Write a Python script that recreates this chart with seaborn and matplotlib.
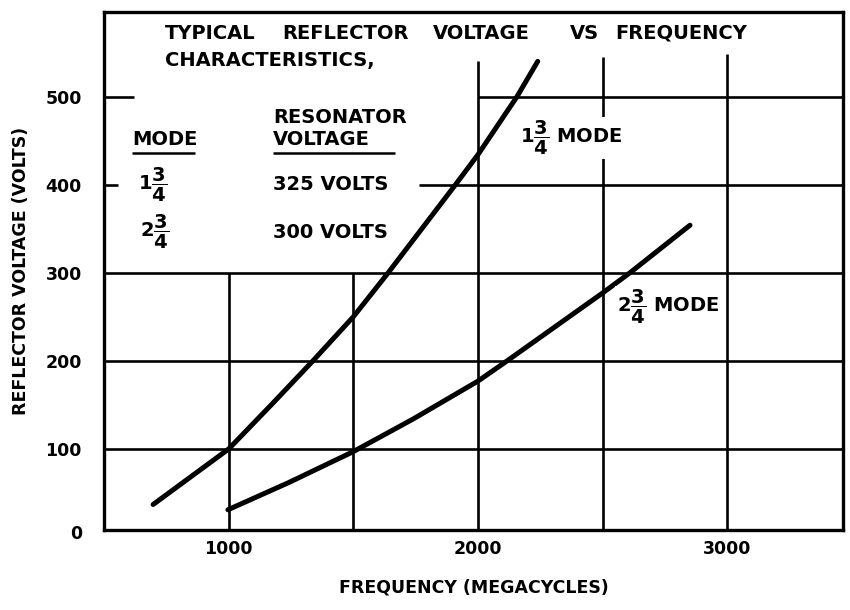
import pandas as pd
import matplotlib
matplotlib.use("Agg")
import matplotlib.pyplot as plt
import seaborn as sns

###############################################################################
# Values (frequency in megacycles, volts)
###############################################################################
mode_1_freq = [697, 1000, 1174, 1338, 1500, 1640, 1910, 2000, 2157, 2240]
mode_1_volts = [37, 100, 151, 200, 250, 300, 400, 434, 500, 540]

mode_2_freq = [997, 1242, 1500, 1740, 2000, 2117, 2500, 2610, 2851]
mode_2_volts = [31, 62, 97, 134, 177, 200, 277, 300, 354]

x_ticks = [1000, 2000, 3000]
x_tick_labels = ["1000", "2000", "3000"]
y_ticks = [100, 200, 300, 400, 500]
y_tick_labels = ["100", "200", "300", "400", "500"]

title_words = ["TYPICAL", "REFLECTOR", "VOLTAGE", "VS", "FREQUENCY"]

df = pd.concat([
    pd.DataFrame({"freq": mode_1_freq, "volts": mode_1_volts, "mode": "1 3/4"}),
    pd.DataFrame({"freq": mode_2_freq, "volts": mode_2_volts, "mode": "2 3/4"}),
], ignore_index=True)

###############################################################################
# Style
###############################################################################
sns.set_theme(style="white")
plt.rcParams["font.family"] = ["DejaVu Sans"]
plt.rcParams["font.weight"] = "bold"
plt.rcParams["text.color"] = "black"
plt.rcParams["axes.labelcolor"] = "black"
plt.rcParams["mathtext.fontset"] = "dejavusans"
plt.rcParams["mathtext.default"] = "bf"

fig = plt.figure(figsize=(8.5, 6.1), dpi=100)
ax = fig.add_axes([0.1224, 0.1311, 0.8694, 0.8492])

XMIN, XMAX = 500, 3465
YMIN, YMAX = 8, 596
ax.set_xlim(XMIN, XMAX)
ax.set_ylim(YMIN, YMAX)

# partial grid, drawn the way the old plate has it
grid_kw = dict(color="black", lw=1.9, zorder=1)
for v in [100, 200, 300]:
    ax.hlines(v, XMIN, XMAX, **grid_kw)
ax.hlines(400, 1764, XMAX, **grid_kw)
ax.hlines(500, 2000, XMAX, **grid_kw)
ax.hlines(500, XMIN, 620, **grid_kw)
ax.hlines(400, XMIN, 555, **grid_kw)
for f in [1000, 1500]:
    ax.vlines(f, YMIN, 300, **grid_kw)
ax.vlines(2000, YMIN, 540, **grid_kw)
ax.vlines(2500, YMIN, 545, **grid_kw)
ax.vlines(3000, YMIN, 548, **grid_kw)

# curves
sns.lineplot(data=df, x="freq", y="volts", hue="mode",
             palette={"1 3/4": "black", "2 3/4": "black"},
             estimator=None, sort=False, lw=3.6, legend=False,
             solid_capstyle="round", solid_joinstyle="round", ax=ax, zorder=3)

for s in ax.spines.values():
    s.set_visible(True)
    s.set_color("black")
    s.set_linewidth(2.4)

ax.set_xticks(x_ticks)
ax.set_xticklabels(x_tick_labels)
ax.set_yticks(y_ticks)
ax.set_yticklabels(y_tick_labels)
ax.tick_params(axis="both", length=0, labelsize=12.5, colors="black")
ax.tick_params(axis="y", pad=16)
ax.tick_params(axis="x", pad=7)
ax.annotate("0", xy=(0, YMIN), xycoords=ax.get_yaxis_transform(),
            xytext=(-16, -3), textcoords="offset points",
            ha="right", va="center", fontsize=12.5, fontweight="bold")

ax.set_xlabel("FREQUENCY (MEGACYCLES)", fontsize=12.5, fontweight="bold", labelpad=15)
ax.set_ylabel("REFLECTOR VOLTAGE (VOLTS)", fontsize=12.5, fontweight="bold", labelpad=11)

###############################################################################
# Annotations
###############################################################################
txt = dict(fontsize=14, fontweight="bold", color="black", va="center", zorder=4)

# title words spread out like the hand lettering on the plate
word_x = [745, 1215, 1820, 2370, 2550]
for w, x in zip(title_words, word_x):
    ax.text(x, 572, w, **txt)
ax.text(745, 541, "CHARACTERISTICS,", **txt)

ax.text(612, 451, "MODE", **txt)
ax.hlines(436, 612, 865, color="black", lw=1.8)
ax.text(1178, 476, "RESONATOR", **txt)
ax.text(1178, 451, "VOLTAGE", **txt)
ax.hlines(436, 1178, 1667, color="black", lw=1.8)

ax.text(636, 400, r"$1\dfrac{3}{4}$", **txt)
ax.text(1178, 400, "325 VOLTS", **txt)
ax.text(644, 346, r"$2\dfrac{3}{4}$", **txt)
ax.text(1178, 346, "300 VOLTS", **txt)

box = dict(facecolor="white", edgecolor="none", pad=1.5)
ax.text(2169, 453, r"$1\dfrac{3}{4}$ MODE", bbox=box, **txt)
ax.text(2558, 261, r"$2\dfrac{3}{4}$ MODE", bbox=box, **txt)

fig.savefig("out.png", dpi=100)
